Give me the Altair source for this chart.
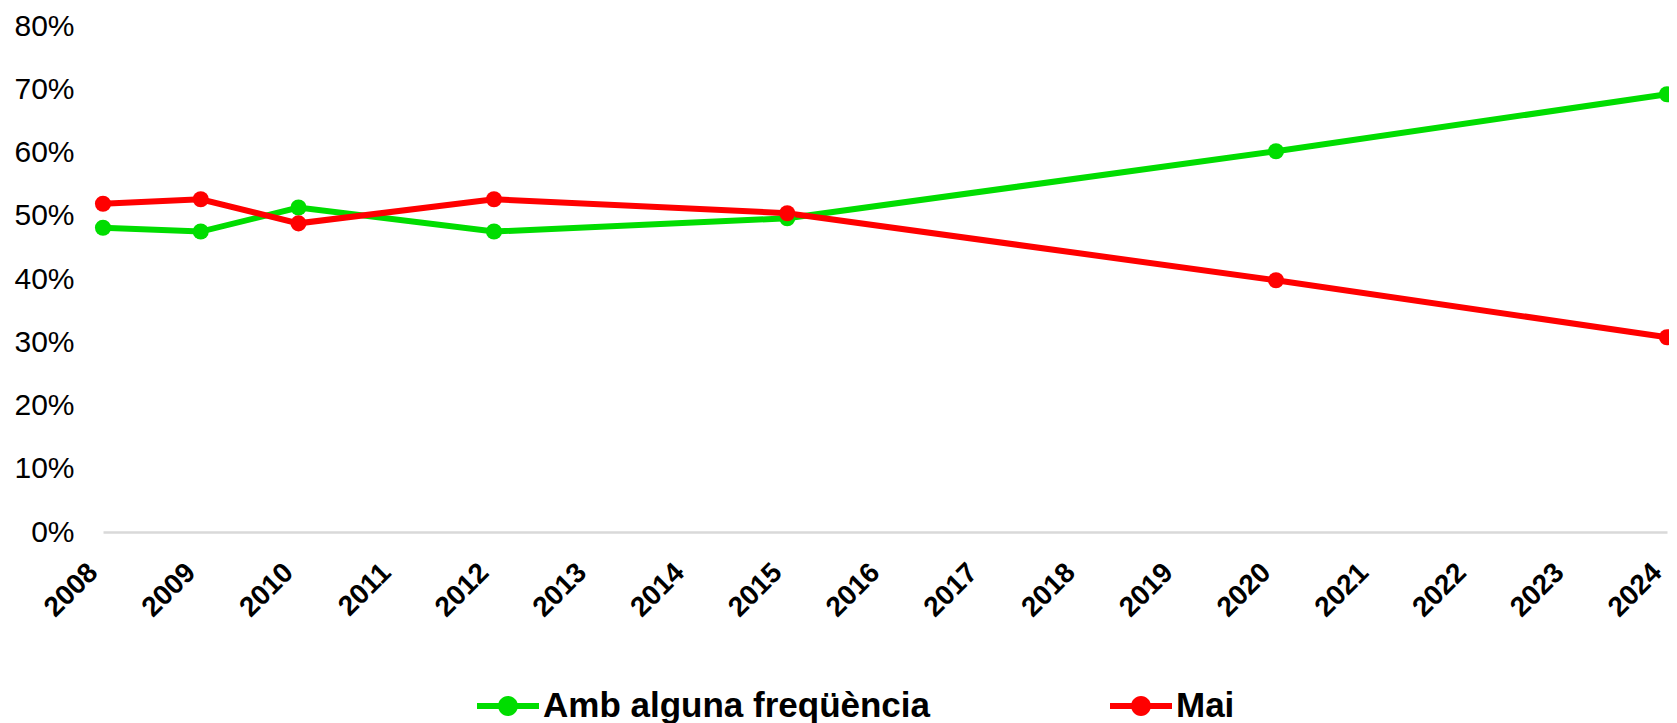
import altair as alt
import pandas as pd

years = [2008, 2009, 2010, 2012, 2015, 2020, 2024]
freq = [48.1, 47.5, 51.3, 47.5, 49.6, 60.2, 69.2]
mai = [51.9, 52.6, 48.8, 52.6, 50.4, 39.8, 30.8]
series = ["Amb alguna freqüència", "Mai"]
colors = ["#00DD00", "#FF0000"]
tick_years = list(range(2008, 2025))

rows = []
for name, vals in zip(series, [freq, mai]):
    for y, v in zip(years, vals):
        rows.append({"Any": y, "Valor": v / 100, "Serie": name})
df = pd.DataFrame(rows)

legend_path = ("M-1,-0.1 L1,-0.1 L1,0.1 L-1,0.1 Z "
               "M0.32,0 A0.32,0.32 0 1,1 -0.32,0 A0.32,0.32 0 1,1 0.32,0 Z")

x = alt.X("Any:Q",
          scale=alt.Scale(domain=[2008, 2024], nice=False, zero=False),
          axis=alt.Axis(values=tick_years, format="d", title=None,
                        labelAngle=-45, labelAlign="right", labelBaseline="bottom",
                        labelFont="Liberation Sans", labelFontSize=28,
                        labelFontWeight="bold", labelColor="black",
                        labelPadding=46, ticks=False, grid=False,
                        domainColor="#d9d9d9", domainWidth=2.5,
                        labelOverlap=False, labelBound=False, labelFlush=False))
y = alt.Y("Valor:Q",
          scale=alt.Scale(domain=[0, 0.8], nice=False),
          axis=alt.Axis(values=[0, 0.1, 0.2, 0.3, 0.4, 0.5, 0.6, 0.7, 0.8],
                        format=".0%", title=None, domain=False, ticks=False,
                        grid=False, labelFont="Liberation Sans", labelFontSize=30,
                        labelColor="black", labelPadding=29))
color = alt.Color("Serie:N",
                  scale=alt.Scale(domain=series, range=colors),
                  legend=alt.Legend(orient="none", legendX=374, legendY=649,
                                    direction="horizontal", title=None,
                                    labelFont="Liberation Sans", labelFontSize=35,
                                    labelFontWeight="bold", labelColor="black",
                                    symbolType=legend_path, symbolSize=3844,
                                    symbolStrokeWidth=0, labelOffset=4,
                                    columnPadding=179, padding=0, labelLimit=0))

lines = alt.Chart(df).mark_line(strokeWidth=6).encode(x=x, y=y, color=color)
points = alt.Chart(df).mark_point(filled=True, size=260, opacity=1).encode(x=x, y=y, color=color)

chart = alt.layer(lines, points).properties(
    width=1564, height=506,
    autosize=alt.AutoSizeParams(type="none"),
    padding={"left": 95, "top": 18, "right": 2, "bottom": 191},
    background="white",
).configure_view(stroke=None)

chart.save("out.html", embed_options={"renderer": "svg", "actions": False})
